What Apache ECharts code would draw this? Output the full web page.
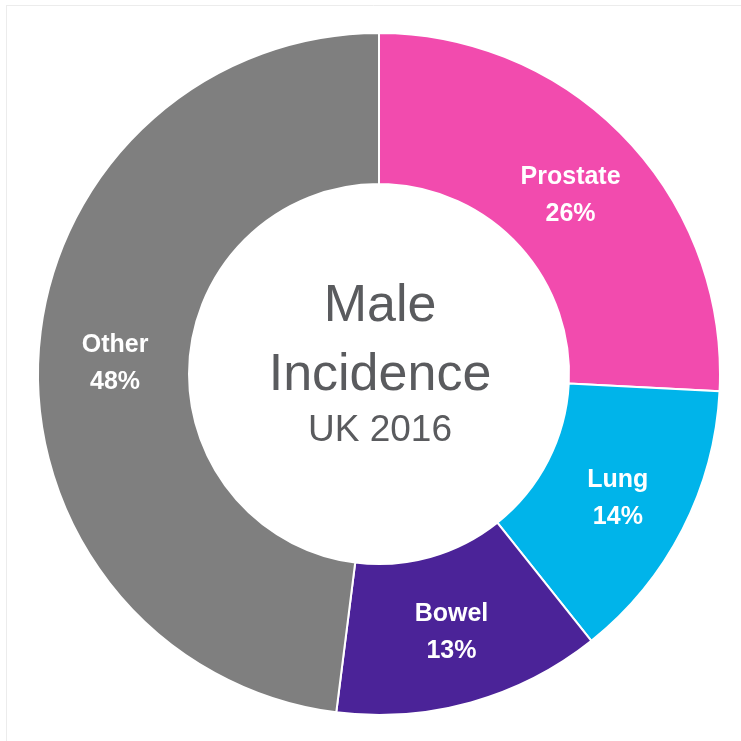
<!DOCTYPE html>
<html>
<head>
<meta charset="utf-8">
<script src="https://cdn.jsdelivr.net/npm/echarts@6/dist/echarts.min.js"></script>
<style>
  html, body { margin: 0; padding: 0; background: #fff; }
  #chart { width: 741px; height: 741px; }
</style>
</head>
<body>
<div id="chart"></div>
<script>
// share of new cancer cases, males, UK 2016
var sites = ['Prostate', 'Lung', 'Bowel', 'Other'];
var shares = [25.8, 13.5, 12.7, 48.0];          // slice sizes
var shareLabels = ['26%', '14%', '13%', '48%'];  // as printed on the slices
var colours = ['#F24BAE', '#00B4EA', '#4B2398', '#7F7F7F'];
var labelNudge = [[-3, 7], [0, 2], [0, 0], [4, 6]];
var centreLines = ['Male', 'Incidence', 'UK 2016'];

var chart = echarts.init(document.getElementById('chart'));

chart.setOption({
    backgroundColor: '#ffffff',
    animation: false,
    graphic: [
        { type: 'line', shape: { x1: 6, y1: 5.5, x2: 741, y2: 5.5 }, style: { stroke: '#ececec', lineWidth: 1 } },
        { type: 'line', shape: { x1: 6.5, y1: 5, x2: 6.5, y2: 741 }, style: { stroke: '#ececec', lineWidth: 1 } },
        { type: 'text', x: 380, y: 281, style: { text: centreLines[0], font: '52px "Liberation Sans"', fill: '#5a5b5e', align: 'center', verticalAlign: 'top' } },
        { type: 'text', x: 380, y: 350, style: { text: centreLines[1], font: '52px "Liberation Sans"', fill: '#5a5b5e', align: 'center', verticalAlign: 'top' } },
        { type: 'text', x: 380, y: 412, style: { text: centreLines[2], font: '37px "Liberation Sans"', fill: '#5a5b5e', align: 'center', verticalAlign: 'top' } }
    ],
    series: [{
        type: 'pie',
        center: [379, 374],
        radius: [190, 341],
        startAngle: 90,
        clockwise: true,
        avoidLabelOverlap: false,
        itemStyle: { borderColor: '#ffffff', borderWidth: 2 },
        label: {
            show: true,
            position: 'inside',
            color: '#ffffff',
            fontFamily: 'Liberation Sans',
            fontWeight: 'bold',
            fontSize: 25,
            lineHeight: 37,
            formatter: function (p) { return p.name + '\n' + shareLabels[p.dataIndex]; }
        },
        labelLine: { show: false },
        emphasis: { disabled: true },
        data: sites.map(function (s, i) {
            return {
                name: s,
                value: shares[i],
                itemStyle: { color: colours[i] },
                label: { offset: labelNudge[i] }
            };
        })
    }]
});
</script>
</body>
</html>
